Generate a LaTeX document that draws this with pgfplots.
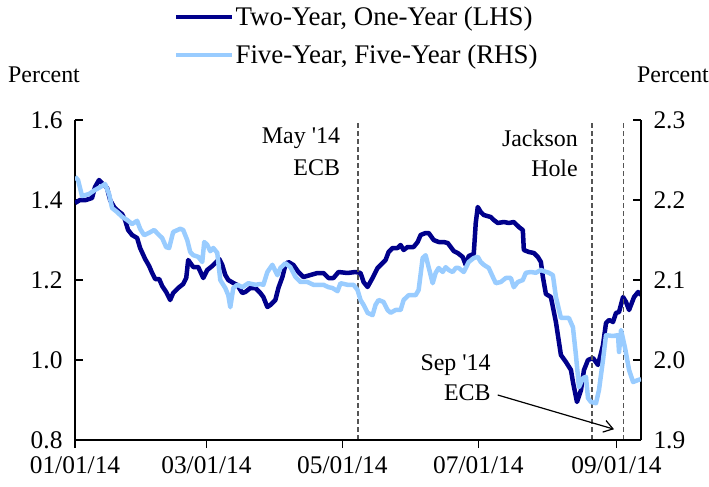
\documentclass[border=0pt]{standalone}
\usepackage{fontspec}
\setmainfont{Liberation Serif}
\usepackage{pgfplots}
\pgfplotsset{compat=1.18}
\usetikzlibrary{arrows.meta}
\definecolor{navyline}{RGB}{0,0,139}
\definecolor{lightline}{RGB}{153,204,255}
\definecolor{dashgray}{RGB}{85,85,85}
\newcommand{\chartfont}{\fontsize{24}{28}\selectfont}
\newcommand{\tickfont}{\fontsize{25.5}{30}\selectfont}
\newcommand{\legfont}{\fontsize{27}{32}\selectfont}
\pgfplotsset{
  base/.style={scale only axis, width=566bp, height=320bp, at={(0,0)}, anchor=south west,
    xmin=0, xmax=254, major tick length=8bp,
    tick style={black, line width=1.2bp},
    axis line style={black, line width=1.2bp},
    tick label style={font=\tickfont},
    /pgf/number format/assume math mode=true,
    yticklabel={\pgfmathprintnumber[fixed, fixed zerofill, precision=1, assume math mode=true]{\tick}}},
}
\begin{document}
\begin{tikzpicture}
\begin{axis}[base, ymin=0.8, ymax=1.6, axis y line*=left, axis x line*=bottom,
  xtick=\empty, ytick={0.8,1,1.2,1.4,1.6}, tick align=inside,
  y tick label style={xshift=-9bp},
  legend style={at={(axis description cs:0.1750,1.357)}, anchor=north west, draw=none, fill=none,
    inner sep=0pt, outer sep=0pt, row sep=16bp, font=\legfont, nodes={inner sep=1bp}},
  legend cell align=left,
  legend image code/.code={\draw[#1] (0bp,0bp) -- (56bp,0bp);}]
\addplot[navyline, line width=4.5bp, line join=round] coordinates {
(0,1.3925) (2.25,1.400) (4.95,1.400) (7.64,1.405) (8.99,1.4325) (10.79,1.450) (12.59,1.440) (14.39,1.430) (15.74,1.400) (17.53,1.3825) (19.33,1.3725) (21.13,1.365) (22.48,1.350) (23.83,1.325) (25.63,1.3125) (27.88,1.305) (29.22,1.280) (31.47,1.2525) (33.27,1.235) (34.62,1.2175) (35.97,1.2025) (37.77,1.2025) (39.12,1.185) (40.91,1.170) (42.71,1.150) (44.06,1.1675) (46.31,1.180) (48.56,1.190) (49.91,1.205) (50.80,1.250) (53.05,1.2325) (55.30,1.2325) (57.55,1.205) (59.35,1.225) (61.60,1.235) (63.39,1.245) (64.74,1.2525) (66.09,1.2375) (67.44,1.2125) (68.79,1.200) (71.04,1.1925) (72.84,1.1875) (75.08,1.1675) (76.43,1.170) (78.68,1.180) (80.93,1.180) (83.18,1.1675) (84.53,1.1575) (86.33,1.1325) (87.67,1.1375) (89.92,1.150) (91.27,1.180) (93.07,1.2075) (94.42,1.2375) (95.76,1.245) (98.01,1.2375) (100.26,1.220) (102.51,1.2075) (105.66,1.2125) (108.80,1.2175) (111.50,1.2175) (113.75,1.205) (116.00,1.205) (118.25,1.220) (122.29,1.2175) (125.89,1.220) (128.14,1.2175) (129.49,1.195) (131.28,1.1825) (133.53,1.205) (135.78,1.230) (138.03,1.2425) (139.38,1.250) (140.73,1.270) (142.52,1.280) (144.77,1.280) (146.12,1.2875) (147.47,1.275) (149.27,1.2825) (151.96,1.2825) (153.76,1.295) (155.11,1.3125) (157.36,1.3175) (158.71,1.3175) (160.96,1.300) (163.20,1.295) (165.45,1.295) (167.25,1.2925) (168.60,1.2825) (169.95,1.2725) (171.75,1.2675) (174.00,1.2575) (175.34,1.2375) (176.69,1.260) (178.94,1.265) (179.84,1.3425) (180.74,1.3825) (182.09,1.370) (183.44,1.3625) (186.58,1.3575) (187.93,1.350) (189.73,1.3425) (192.43,1.345) (194.68,1.3425) (196.92,1.345) (199.17,1.3325) (200.97,1.325) (201.42,1.275) (203.67,1.270) (205.92,1.2675) (207.72,1.2575) (209.07,1.245) (209.97,1.2075) (211.32,1.165) (213.56,1.1575) (215.81,1.095) (218.06,1.0125) (220.31,0.995) (222.56,0.975) (223.46,0.945) (225.26,0.895) (227.06,0.925) (228.41,0.975) (230.20,1.000) (232.45,1.005) (234.70,0.9875) (236.95,1.0375) (238.30,1.0925) (239.65,1.100) (241.45,1.095) (242.79,1.1175) (244.14,1.120) (245.94,1.1575) (247.29,1.145) (248.64,1.125) (250.89,1.1575) (252.69,1.170) (254,1.1625)
};
\addlegendentry{Two-Year, One-Year (LHS)}
\addlegendimage{lightline, line width=4.5bp}
\addlegendentry{Five-Year, Five-Year (RHS)}
\addplot[dashgray, line width=1.3bp, dash pattern=on 5bp off 3bp, forget plot] coordinates {(127,0.8) (127,1.6)};
\addplot[dashgray, line width=1.3bp, dash pattern=on 5bp off 3bp, forget plot] coordinates {(232,0.8) (232,1.6)};
\addplot[dashgray, line width=1.3bp, dash pattern=on 5bp off 3bp, forget plot] coordinates {(246,0.8) (246,1.6)};
\node[anchor=east, font=\chartfont, inner sep=0pt] at (axis cs:119,1.555) {May \textquotesingle 14};
\node[anchor=east, font=\chartfont, inner sep=0pt] at (axis cs:119,1.48) {ECB};
\node[anchor=east, font=\chartfont, inner sep=0pt] at (axis cs:225.7,1.555) {Jackson};
\node[anchor=east, font=\chartfont, inner sep=0pt] at (axis cs:225.7,1.48) {Hole};
\node[anchor=east, font=\chartfont, inner sep=0pt] at (axis cs:186.6,0.9875) {Sep \textquotesingle 14};
\node[anchor=east, font=\chartfont, inner sep=0pt] at (axis cs:186.6,0.9175) {ECB};
\draw[black, line width=1.2bp, -{Straight Barb[length=9bp, width=12bp]}] (axis cs:189.7,0.9125) -- (axis cs:241.9,0.827);
\end{axis}
\begin{axis}[base, ymin=0, ymax=1, axis x line*=bottom, axis y line=none,
  xtick={0,59,120,181,243}, xticklabels={01/01/14,03/01/14,05/01/14,07/01/14,09/01/14},
  x tick label style={yshift=-5bp},
  tick align=outside]
\end{axis}
\begin{axis}[base, ymin=1.9, ymax=2.3, axis y line*=right, axis x line=none,
  ytick={1.9,2,2.1,2.2,2.3}, tick align=inside, y tick label style={xshift=9bp}]
\addplot[lightline, line width=4.5bp, line join=round] coordinates {
(0,2.229) (1.35,2.225) (3.15,2.205) (6.29,2.2075) (8.99,2.2125) (11.24,2.216) (13.49,2.22) (15.29,2.2075) (16.63,2.19) (18.88,2.185) (21.13,2.179) (23.38,2.175) (25.63,2.17) (27.88,2.174) (29.22,2.164) (31.02,2.156) (33.27,2.159) (35.52,2.1625) (37.77,2.156) (39.12,2.1525) (40.91,2.141) (42.26,2.14) (44.06,2.16) (47.21,2.164) (48.56,2.1625) (50.36,2.15) (51.70,2.135) (53.05,2.131) (55.30,2.129) (57.10,2.1225) (58.00,2.1475) (59.35,2.144) (60.70,2.136) (62.04,2.14) (63.84,2.134) (65.19,2.10) (67.44,2.09) (68.79,2.081) (69.69,2.066) (71.04,2.09) (72.84,2.094) (75.08,2.091) (77.78,2.096) (80.93,2.094) (83.18,2.095) (84.53,2.094) (86.33,2.11) (88.57,2.119) (90.82,2.106) (92.17,2.115) (94.42,2.121) (96.66,2.116) (98.91,2.104) (101.16,2.0975) (104.31,2.0975) (107.00,2.094) (111.50,2.094) (113.75,2.091) (115.55,2.09) (117.80,2.086) (119.15,2.096) (122.29,2.094) (124.99,2.094) (126.79,2.0875) (128.14,2.075) (129.49,2.069) (131.28,2.059) (133.53,2.056) (134.88,2.069) (136.23,2.075) (138.48,2.0725) (140.28,2.0625) (141.62,2.059) (143.87,2.0625) (146.12,2.0625) (147.47,2.075) (149.72,2.081) (152.86,2.081) (154.21,2.0875) (156.01,2.1275) (157.36,2.131) (158.71,2.116) (160.51,2.096) (161.86,2.109) (163.20,2.115) (165.00,2.11) (166.35,2.116) (167.70,2.1125) (169.50,2.11) (170.85,2.115) (172.20,2.115) (174.45,2.11) (176.69,2.1225) (178.94,2.1275) (180.74,2.129) (182.09,2.1225) (183.44,2.119) (185.68,2.115) (187.48,2.104) (188.83,2.096) (191.08,2.0975) (193.33,2.1025) (195.58,2.1025) (196.92,2.091) (198.72,2.0975) (200.97,2.10) (202.32,2.109) (204.57,2.11) (206.82,2.109) (209.07,2.1125) (210.41,2.111) (212.66,2.109) (214.46,2.106) (215.81,2.079) (218.06,2.0525) (221.65,2.0525) (223.45,2.041) (224.80,2.006) (226.15,1.966) (227.95,1.9775) (229.30,1.979) (230.20,1.9525) (231.55,1.9475) (233.80,1.946) (235.14,1.9625) (236.94,2.00) (238.29,2.031) (241.44,2.03) (243.69,2.031) (244.14,2.01) (245.04,2.0375) (246.84,2.015) (248.64,1.9875) (250.44,1.9725) (252.69,1.975) (254,1.976)
};
\end{axis}
\node[font=\chartfont] at (-31bp,365bp) {Percent};
\node[font=\chartfont] at (598bp,365bp) {Percent};
\pgfresetboundingbox
\path[use as bounding box] (-75bp,-47bp) rectangle (634bp,440bp);
\end{tikzpicture}
\end{document}
